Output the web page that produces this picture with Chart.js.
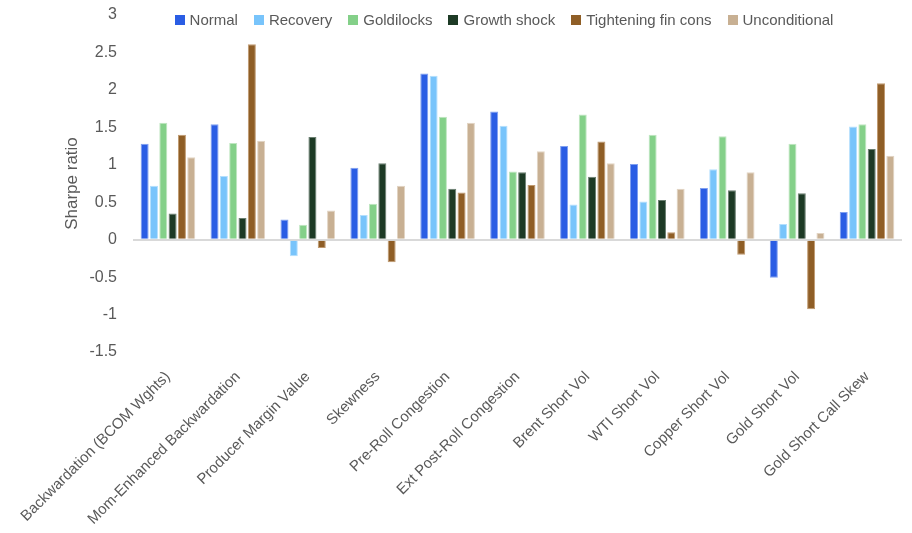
<!DOCTYPE html>
<html>
<head>
<meta charset="utf-8">
<script src="https://cdn.jsdelivr.net/npm/chart.js@4/dist/chart.umd.min.js"></script>
<style>
  html, body { margin: 0; padding: 0; background: #ffffff; }
  #wrap { width: 912px; height: 533px; position: relative; }
</style>
</head>
<body>
<div id="wrap"><canvas id="c" width="912" height="533"></canvas></div>
<script>
// Strategy names along the x axis
const strategies = [
  'Backwardation (BCOM Wghts)',
  'Mom-Enhanced Backwardation',
  'Producer Margin Value',
  'Skewness',
  'Pre-Roll Congestion',
  'Ext Post-Roll Congestion',
  'Brent Short Vol',
  'WTI Short Vol',
  'Copper Short Vol',
  'Gold Short Vol',
  'Gold Short Call Skew'
];

// Sharpe ratio of each strategy in each macro regime
const normal        = [1.28, 1.54, 0.27, 0.96, 2.22, 1.71, 1.25, 1.01, 0.69, -0.51, 0.37];
const recovery      = [0.72, 0.85, -0.22, 0.33, 2.19, 1.52, 0.47, 0.51, 0.94, 0.21, 1.51];
const goldilocks    = [1.56, 1.29, 0.20, 0.48, 1.64, 0.91, 1.67, 1.40, 1.38, 1.28, 1.54];
const growthShock   = [0.35, 0.29, 1.37, 1.02, 0.68, 0.90, 0.84, 0.53, 0.66, 0.62, 1.21];
const tightening    = [1.40, 2.61, -0.11, -0.30, 0.63, 0.73, 1.31, 0.10, -0.20, -0.93, 2.09];
const unconditional = [1.10, 1.32, 0.39, 0.72, 1.56, 1.18, 1.02, 0.68, 0.90, 0.09, 1.12];

const seriesNames = ['Normal', 'Recovery', 'Goldilocks', 'Growth shock', 'Tightening fin cons', 'Unconditional'];
const seriesValues = [normal, recovery, goldilocks, growthShock, tightening, unconditional];

// Y axis range and step
const yMin = -1.5;
const yMax = 3;
const yStep = 0.5;

// Palette: fill and a lighter edge for each series
const fills = ['#2a5de4', '#78c4fb', '#84d089', '#1d3a25', '#8f5e26', '#c8b093'];
const edges = ['#7f9ff0', '#b4dffd', '#bfe6c1', '#6a7f70', '#c09a70', '#e2d4c3'];

const textColor = '#595959';
const baseFont = "'Liberation Sans', Arial, sans-serif";

const datasets = seriesNames.map((name, i) => ({
  label: name,
  data: seriesValues[i],
  backgroundColor: fills[i],
  borderColor: edges[i],
  borderWidth: 1,
  categoryPercentage: 0.8,
  barPercentage: 0.86
}));

// Single-row legend laid over the top of the plot, centred on a given x
const overlayLegend = {
  id: 'overlayLegend',
  afterDraw(chart, args, opts) {
    const ctx = chart.ctx;
    const sets = chart.data.datasets;
    ctx.save();
    ctx.font = opts.fontSize + 'px ' + baseFont;
    ctx.textBaseline = 'middle';
    ctx.textAlign = 'left';
    const widths = sets.map(d => ctx.measureText(d.label).width);
    const total = widths.reduce((a, w) => a + opts.box + opts.gap + w, 0) + opts.spacing * (sets.length - 1);
    let x = opts.centerX - total / 2;
    const y = opts.centerY;
    sets.forEach((d, i) => {
      ctx.fillStyle = d.backgroundColor;
      ctx.fillRect(Math.round(x), Math.round(y - opts.box / 2), opts.box, opts.box);
      ctx.fillStyle = textColor;
      ctx.fillText(d.label, x + opts.box + opts.gap, y + 1);
      x += opts.box + opts.gap + widths[i] + opts.spacing;
    });
    ctx.restore();
  }
};

new Chart(document.getElementById('c'), {
  type: 'bar',
  data: { labels: strategies, datasets },
  plugins: [overlayLegend],
  options: {
    responsive: false,
    animation: false,
    devicePixelRatio: 1,
    layout: { padding: { top: 15, right: 10, bottom: 0, left: 0 } },
    plugins: {
      legend: { display: false },
      tooltip: { enabled: false },
      overlayLegend: { centerX: 504, centerY: 20, box: 10, gap: 5, spacing: 16, fontSize: 15 }
    },
    scales: {
      x: {
        grid: { display: false },
        border: { display: false },
        ticks: {
          autoSkip: false,
          minRotation: 45,
          maxRotation: 45,
          padding: 8,
          color: textColor,
          font: { family: baseFont, size: 15 }
        },
        afterFit(scale) { scale.height = 181; }
      },
      y: {
        min: yMin,
        max: yMax,
        border: { display: false },
        grid: {
          drawTicks: false,
          lineWidth: 2,
          color: (ctx) => (ctx.tick && ctx.tick.value === 0 ? '#d9d9d9' : 'rgba(0,0,0,0)')
        },
        ticks: {
          stepSize: yStep,
          padding: 16,
          color: textColor,
          font: { family: baseFont, size: 16 },
          callback: (v) => String(Number(Number(v).toFixed(2)))
        },
        title: {
          display: true,
          text: 'Sharpe ratio',
          color: textColor,
          font: { family: baseFont, size: 17 },
          padding: { top: 62, bottom: 0 }
        },
        afterFit(scale) {
          scale.width = 133;
          scale.paddingTop = 0;
          scale.paddingBottom = 0;
        }
      }
    }
  }
});
</script>
</body>
</html>
